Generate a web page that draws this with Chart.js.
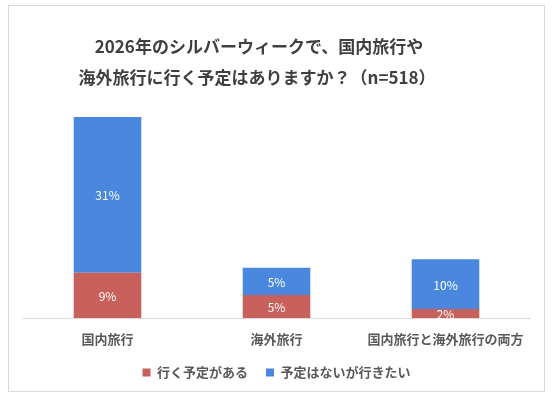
<!DOCTYPE html>
<html><head><meta charset="utf-8">
<script src="https://cdn.jsdelivr.net/npm/chart.js@4"></script>
<style>html,body{margin:0;padding:0;background:#fff;}#wrap{width:553px;height:397px;position:relative;}</style>
</head><body><div id="wrap"><canvas id="c" width="553" height="397"></canvas></div>
<script>
const titleLines = ['2026年のシルバーウィークで、国内旅行や', '海外旅行に行く予定はありますか？（n=518）'];
const categories = ['国内旅行', '海外旅行', '国内旅行と海外旅行の両方'];
const seriesNames = ['行く予定がある', '予定はないが行きたい'];
const planned = [9.0, 4.6, 1.8];
const wantTo = [31.0, 5.4, 9.9];

const FONT = "'Noto Sans CJK JP', 'Noto Sans', sans-serif";

const framePlugin = {
  id: 'frame',
  beforeDraw(chart) {
    const ctx = chart.ctx;
    ctx.save();
    ctx.fillStyle = '#fff';
    ctx.fillRect(0, 0, chart.width, chart.height);
    ctx.strokeStyle = '#D9D9D9';
    ctx.lineWidth = 1;
    ctx.strokeRect(8.5, 5.5, 536, 386);
    ctx.restore();
  },
  afterDraw(chart) {
    const ctx = chart.ctx;
    ctx.save();
    ctx.fillStyle = '#404040';
    ctx.font = 'bold 17px ' + FONT;
    ctx.textAlign = 'center';
    ctx.textBaseline = 'middle';
    ctx.fillText(titleLines[0], 259, 47);
    ctx.fillText(titleLines[1], 257, 78);
    ctx.restore();
  }
};

const labelPlugin = {
  id: 'barLabels',
  afterDatasetsDraw(chart) {
    const ctx = chart.ctx;
    ctx.save();
    ctx.fillStyle = '#fff';
    ctx.font = '12px ' + FONT;
    ctx.textAlign = 'center';
    ctx.textBaseline = 'middle';
    chart.data.datasets.forEach((ds, di) => {
      const meta = chart.getDatasetMeta(di);
      meta.data.forEach((el, i) => {
        const v = ds.data[i];
        ctx.fillText(Math.round(v) + '%', el.x, (el.y + el.base) / 2 + 1);
      });
    });
    ctx.restore();
  }
};

new Chart(document.getElementById('c'), {
  type: 'bar',
  data: {
    labels: categories,
    datasets: [
      { label: seriesNames[0], data: planned, backgroundColor: '#C8605C', categoryPercentage: 1.0, barPercentage: 0.4 },
      { label: seriesNames[1], data: wantTo, backgroundColor: '#4A88E0', categoryPercentage: 1.0, barPercentage: 0.4 }
    ]
  },
  options: {
    responsive: false,
    animation: false,
    layout: { padding: { top: 117, left: 23, right: 23, bottom: 8 } },
    scales: {
      x: {
        stacked: true,
        grid: { display: false, drawTicks: false },
        border: { display: true, color: '#D9D9D9' },
        ticks: { color: '#595959', font: { family: FONT, size: 13, weight: 'bold' }, padding: 13 },
        afterFit(scale) { scale.height = 30; }
      },
      y: {
        stacked: true, display: false, min: 0, max: 40
      }
    },
    plugins: {
      title: { display: false },
      tooltip: { enabled: false },
      legend: {
        position: 'bottom',
        labels: {
          boxWidth: 8, boxHeight: 8, padding: 18,
          color: '#595959',
          font: { family: FONT, size: 13, weight: 'bold' }
        }
      }
    }
  },
  plugins: [framePlugin, labelPlugin]
});
</script>
</body></html>
